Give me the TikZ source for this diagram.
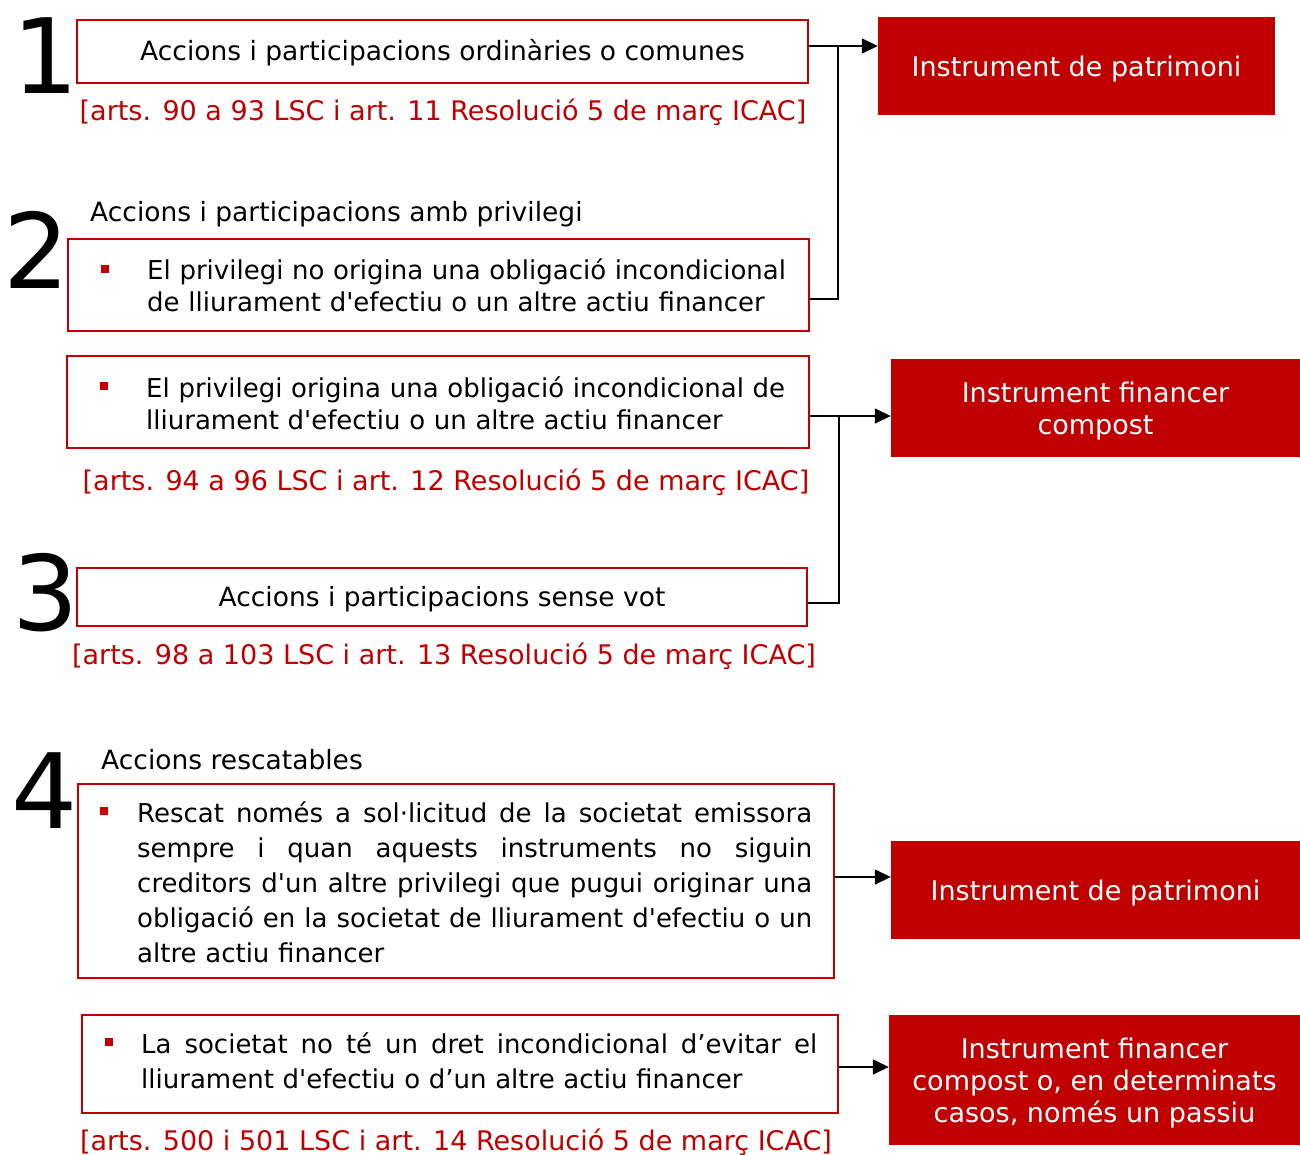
\documentclass[tikz,border=0pt]{standalone}
\usepackage{fontspec}
\setmainfont{DejaVu Sans}
\usepackage{xcolor}
\usetikzlibrary{arrows.meta,calc,positioning}
\definecolor{vermell}{HTML}{C00000}
\newcommand{\apos}{\textquotesingle}
\newcommand{\justa}[2]{\makebox[#1][s]{\spaceskip=.32em plus 1fil\relax#2}}

\begin{document}
\begin{tikzpicture}[x=1pt,y=-1pt,
	caixa/.style 2 args={draw=vermell,line width=2.2pt,minimum width=#1,minimum height=#2,inner sep=0pt},
	resultat/.style 2 args={fill=vermell,text=white,minimum width=#1,minimum height=#2,align=center,inner sep=0pt,text depth=0pt,font=\fontsize{27}{32}\selectfont},
	numero/.style={font=\fontsize{104}{104}\selectfont,anchor=base,inner sep=0pt},
	texte/.style={font=\fontsize{26}{32}\selectfont,inner sep=0pt},
	titol/.style={font=\fontsize{26.5}{32}\selectfont,inner sep=0pt,anchor=base},
	ref/.style={font=\fontsize{27}{32}\selectfont,inner sep=0pt,text=vermell,anchor=base},
	bala/.style={fill=vermell,minimum size=8.5pt,inner sep=0pt},
	fletxa/.style={-{Triangle[length=16pt,width=15pt]},line width=1.5pt},
	linia/.style={line width=1.5pt}]
	\useasboundingbox (0,0) rectangle (1300,1154);

	\node[numero] (n1) at (46,93) {1};
	\node[caixa={731pt}{63pt}] (caixa1) at (442.5,51.5) {};
	\node[titol] (t1) at (442.5,60) {Accions i participacions ordinàries o comunes};
	\node[ref] (r1) at (443,120) {[arts. 90 a 93 LSC i art. 11 Resolució 5 de març ICAC]};
	\node[resultat={397pt}{98pt}] (patrimoni1) at (1076.5,66) {Instrument de patrimoni};

	\node[numero] (n2) at (37,288) {2};
	\node[titol,anchor=base west] (e2) at (90,221) {Accions i participacions amb privilegi};
	\node[caixa={741pt}{92pt}] (caixa2) at (438.5,285) {};
	\node[bala] (b2) at (105,269) {};
	\node[texte,anchor=north west,text width=680pt,align=left] (t2) at (147,259)
		{El privilegi no origina una obligació incondicional\\de lliurament d\apos efectiu o un altre actiu financer};

	\node[caixa={742pt}{92pt}] (caixa3) at (438,402) {};
	\node[bala] (b3) at (104,386) {};
	\node[texte,anchor=north west,text width=680pt,align=left] (t3) at (146,376)
		{El privilegi origina una obligació incondicional de\\lliurament d\apos efectiu o un altre actiu financer};
	\node[ref] (r2) at (446,490) {[arts. 94 a 96 LSC i art. 12 Resolució 5 de març ICAC]};
	\node[resultat={409pt}{98pt}] (compost1) at (1095.5,408) {Instrument financer\\compost};

	\node[numero] (n3) at (46,630) {3};
	\node[caixa={730pt}{58pt}] (caixa4) at (442,597) {};
	\node[titol] (t4) at (442,606) {Accions i participacions sense vot};
	\node[ref] (r3) at (444,664) {[arts. 98 a 103 LSC i art. 13 Resolució 5 de març ICAC]};

	\node[numero] (n4) at (45,828) {4};
	\node[titol,anchor=base west] (e4) at (101,769) {Accions rescatables};
	\node[caixa={756pt}{194pt}] (caixa5) at (456,881) {};
	\node[bala] (b5) at (104,811) {};
	\node[texte,anchor=north west,text width=675pt,align=left,font=\fontsize{26}{35}\selectfont] (t5) at (137,801)
		{\justa{675pt}{Rescat només a sol·licitud de la societat emissora}\\
		\justa{675pt}{sempre i quan aquests instruments no siguin}\\
		\justa{675pt}{creditors d\apos un altre privilegi que pugui originar una}\\
		\justa{675pt}{obligació en la societat de lliurament d\apos efectiu o un}\\
		altre actiu financer};
	\node[resultat={409pt}{98pt}] (patrimoni2) at (1095.5,890) {Instrument de patrimoni};

	\node[caixa={756pt}{98pt}] (caixa6) at (460,1064) {};
	\node[bala] (b6) at (109,1042) {};
	\node[texte,anchor=north west,text width=676pt,align=left,font=\fontsize{26}{35}\selectfont] (t6) at (141,1032)
		{\justa{676pt}{La societat no té un dret incondicional d’evitar el}\\
		lliurament d\apos efectiu o d’un altre actiu financer};
	\node[ref] (r4) at (456,1150) {[arts. 500 i 501 LSC i art. 14 Resolució 5 de març ICAC]};
	\node[resultat={411pt}{130pt}] (compost2) at (1094.5,1080) {Instrument financer\\compost o, en determinats\\casos, només un passiu};

	\coordinate (s1) at ([yshift=5.5pt]caixa1.east);
	\coordinate (s2) at ([yshift=-14pt]caixa2.east);
	\coordinate (s3) at ([yshift=-14pt]caixa3.east);
	\coordinate (s4) at ([yshift=-6pt]caixa4.east);
	\coordinate (s5) at ([yshift=4pt]caixa5.east);
	\coordinate (s6) at ([yshift=-3pt]caixa6.east);
	\coordinate (nus1) at (838,0);
	\coordinate (nus2) at (839,0);
	\draw[fletxa] (s1) -- (s1 -| patrimoni1.west);
	\draw[linia] (s2) -| (nus1 |- s1);
	\draw[fletxa] (s3) -- (s3 -| compost1.west);
	\draw[linia] (s4) -| (nus2 |- s3);
	\draw[fletxa] (s5) -- (s5 -| patrimoni2.west);
	\draw[fletxa] (s6) -- (s6 -| compost2.west);
\end{tikzpicture}
\end{document}
